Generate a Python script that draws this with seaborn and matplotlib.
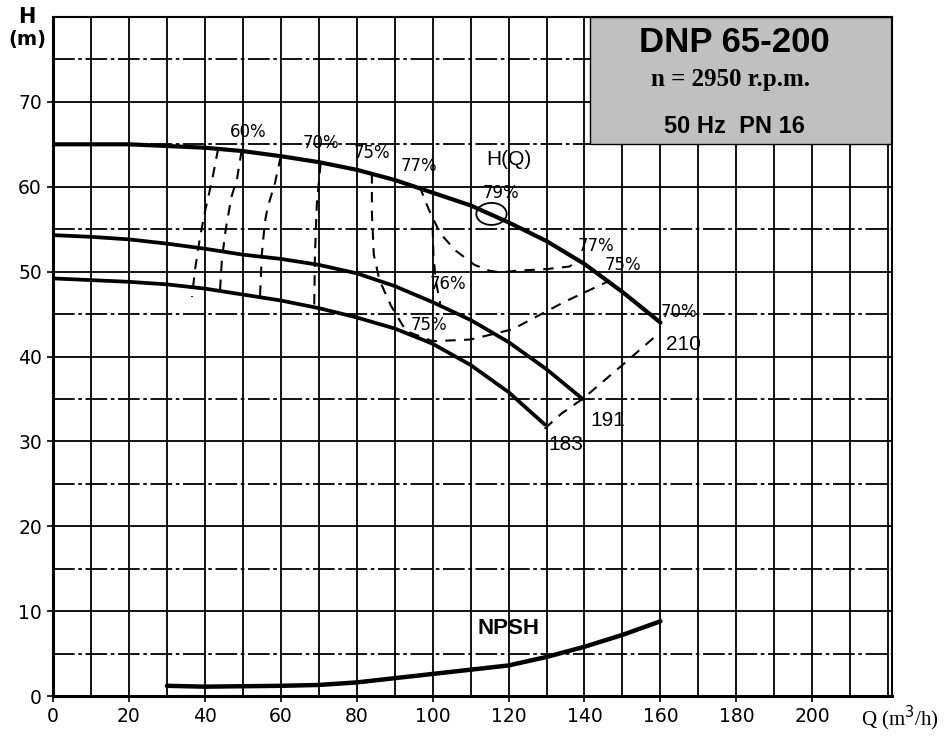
import matplotlib
matplotlib.use("Agg")
import matplotlib.pyplot as plt
from matplotlib.patches import Rectangle, Ellipse
import seaborn as sns

# H(Q) curves for the three impeller diameters
q_210 = [0, 20, 40, 50, 60, 70, 80, 90, 100, 110, 120, 130, 140, 150, 160]
h_210 = [65, 65, 64.6, 64.2, 63.6, 62.9, 62, 60.8, 59.3, 57.8, 55.8, 53.6, 50.9, 47.6, 44]
q_191 = [0, 10, 20, 30, 40, 50, 60, 70, 80, 90, 100, 110, 120, 130, 139.5]
h_191 = [54.3, 54.1, 53.8, 53.3, 52.7, 52.0, 51.5, 50.8, 49.8, 48.3, 46.4, 44.3, 41.7, 38.5, 35]
q_183 = [0, 10, 20, 30, 40, 50, 60, 70, 80, 90, 100, 110, 120, 129.5]
h_183 = [49.2, 49, 48.8, 48.5, 48, 47.3, 46.6, 45.7, 44.6, 43.3, 41.5, 39.0, 35.8, 32]

# NPSH curve
q_npsh = [30, 40, 50, 60, 70, 80, 90, 100, 110, 120, 130, 140, 150, 160]
h_npsh = [1.2, 1.1, 1.15, 1.2, 1.3, 1.6, 2.1, 2.6, 3.1, 3.6, 4.6, 5.8, 7.2, 8.8]

# iso-efficiency lines (dashed)
eff_q_55 = [43.5, 42, 40, 38.7, 37.4, 36.6]
eff_h_55 = [64.5, 61, 57, 54, 50.2, 47]
eff_q_60 = [49.7, 48.5, 47, 45.5, 44.5, 44]
eff_h_60 = [64.3, 61, 58.8, 55, 51.5, 47.8]
eff_q_65 = [60, 58.5, 56.5, 55.8, 55, 54.5]
eff_h_65 = [63.6, 60.5, 57.5, 55.8, 52, 46.8]
eff_q_70 = [70.5, 69.5, 69, 68.8]
eff_h_70 = [62.8, 58, 52, 45.8]
eff_q_75 = [84, 84, 84.5, 86, 89, 93, 100, 110, 121, 135, 146]
eff_h_75 = [61.6, 57, 52, 49, 46, 43, 41.8, 42, 43.2, 46.5, 48.8]
eff_q_76 = [100, 100.2, 100.8, 102]
eff_h_76 = [55.3, 52, 49, 46.2]
eff_q_77 = [96.5, 99, 102, 106, 111, 115, 118, 122, 130, 136, 138.5]
eff_h_77 = [60.1, 57.3, 54.5, 52.5, 50.8, 50.1, 49.9, 50.1, 50.3, 50.6, 51.3]
eff_q_end = [129.5, 134, 139.5, 150, 159.5]
eff_h_end = [31.5, 33.3, 35, 39, 42.7]

eff_labels = ["60%", "70%", "75%", "77%", "79%", "77%", "75%", "70%", "76%", "75%"]
eff_label_q = [51.5, 70.5, 84, 96.5, 118, 143, 150, 165, 104, 99]
eff_label_h = [66.4, 65.2, 64, 62.4, 59.3, 53, 50.8, 45.2, 48.5, 43.7]

diam_labels = ["210", "191", "183"]
diam_label_q = [161.5, 141.5, 130.5]
diam_label_h = [41.4, 32.5, 29.6]

x_ticks = list(range(0, 201, 20))
y_ticks = list(range(0, 71, 10))

sns.set_style("white")
plt.rcParams["font.family"] = ["DejaVu Sans"]
plt.rcParams["text.color"] = "black"
plt.rcParams["xtick.color"] = "black"
plt.rcParams["ytick.color"] = "black"

fig = plt.figure(figsize=(9.48, 7.38), dpi=100)
ax = fig.add_axes([53 / 948, 1 - 696 / 738, (892 - 53) / 948, (696 - 17) / 738])
ax.set_xlim(0, 221)
ax.set_ylim(0, 80)

# grid
for gx in range(10, 221, 10):
    ax.axvline(gx, color="black", lw=1.3, zorder=0.5)
for gy in range(5, 80, 5):
    ls = "-" if gy % 10 == 0 else (0, (12, 2, 2, 2))
    ax.axhline(gy, color="black", lw=1.3, ls=ls, zorder=0.5)

# title box
ax.add_patch(Rectangle((141.5, 65), 221 - 141.5, 15, facecolor="#c0c0c0",
                       edgecolor="black", lw=1.0, zorder=1))
ax.text(179.5, 77.0, "DNP 65-200", ha="center", va="center", fontsize=25,
        fontweight="bold", family=["Liberation Sans", "DejaVu Sans"], zorder=5)
ax.text(178.5, 72.6, "n = 2950 r.p.m.", ha="center", va="center", fontsize=18,
        fontweight="bold", family=["Liberation Serif", "DejaVu Serif"], zorder=5)
ax.text(179.5, 67.1, "50 Hz  PN 16", ha="center", va="center", fontsize=17,
        fontweight="bold", family=["Liberation Sans Narrow", "Liberation Sans"],
        zorder=5)

# main curves
for q, h, w in [(q_210, h_210, 3.0), (q_191, h_191, 2.7), (q_183, h_183, 2.7),
                (q_npsh, h_npsh, 3.2)]:
    sns.lineplot(x=q, y=h, ax=ax, color="black", lw=w, sort=False,
                 estimator=None, zorder=3)

# efficiency lines
for q, h in [(eff_q_55, eff_h_55), (eff_q_60, eff_h_60), (eff_q_65, eff_h_65),
             (eff_q_70, eff_h_70), (eff_q_75, eff_h_75), (eff_q_76, eff_h_76),
             (eff_q_77, eff_h_77), (eff_q_end, eff_h_end)]:
    sns.lineplot(x=q, y=h, ax=ax, color="black", lw=1.5, sort=False,
                 estimator=None, zorder=3)
    ax.lines[-1].set_linestyle((0, (5, 4)))
ax.add_patch(Ellipse((115.5, 56.8), 8, 2.6, fill=False, edgecolor="black",
                     lw=1.3, zorder=3))

for t, q, h in zip(eff_labels, eff_label_q, eff_label_h):
    ax.text(q, h, t, ha="center", va="center", fontsize=12, zorder=4)
for t, q, h in zip(diam_labels, diam_label_q, diam_label_h):
    ax.text(q, h, t, ha="left", va="center", fontsize=15,
            family=["Liberation Sans", "DejaVu Sans"], zorder=4)
ax.text(120, 63.2, "H(Q)", ha="center", va="center", fontsize=15,
        family=["Liberation Sans", "DejaVu Sans"], zorder=4)
ax.text(120, 8.0, "NPSH", ha="center", va="center", fontsize=16,
        fontweight="bold", family=["Liberation Sans", "DejaVu Sans"], zorder=4)

# axes
ax.set_xticks(x_ticks)
ax.set_yticks(y_ticks)
ax.tick_params(axis="both", direction="out", length=4, width=1.2, color="black",
               labelsize=13.5, pad=4, bottom=True, left=True)
for s in ax.spines.values():
    s.set_color("black")
    s.set_linewidth(1.5)
ax.spines["left"].set_linewidth(2.2)
ax.spines["bottom"].set_linewidth(2.2)
ax.set_xlabel("")
ax.set_ylabel("")

fig.text(27 / 948, 1 - 17 / 738, "H", ha="center", va="center", fontsize=15,
         fontweight="bold")
fig.text(27 / 948, 1 - 40 / 738, "(m)", ha="center", va="center", fontsize=14,
         fontweight="bold")
fig.text(900 / 948, 1 - 718 / 738, "Q (m$^3$/h)", ha="center", va="center",
         fontsize=15, family=["Liberation Serif", "DejaVu Serif"])

fig.savefig("out.png", dpi=100)
